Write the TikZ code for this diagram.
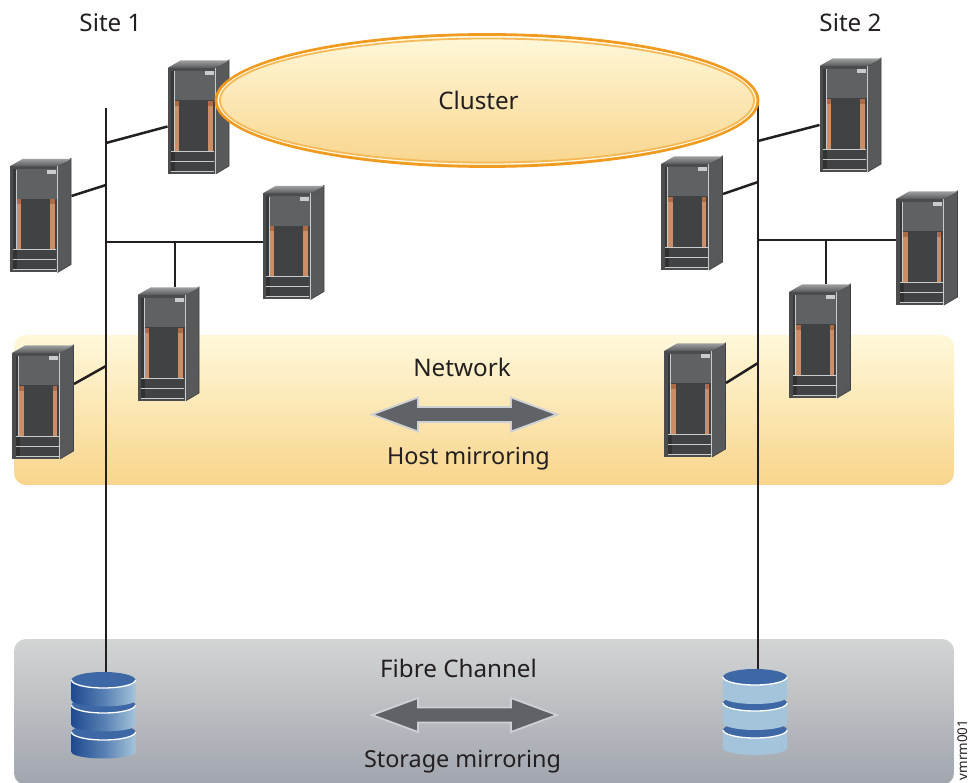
\documentclass[tikz,border=0pt]{standalone}
\usepackage{fontspec}
\setmainfont{Noto Sans}
\definecolor{txt}{HTML}{231F20}
\definecolor{ink}{HTML}{231F20}
\definecolor{ygtop}{HTML}{FFF8DA}
\definecolor{ygbot}{HTML}{F8D58C}
\definecolor{grtop}{HTML}{D3D5D4}
\definecolor{grbot}{HTML}{A0A5AE}
\definecolor{orng}{HTML}{F09A20}
\definecolor{orngl}{HTML}{F6B95A}
\definecolor{arrowdk}{HTML}{5F6266}
\definecolor{arrowlt}{HTML}{CDD1D6}
\definecolor{srvfront}{HTML}{4A4C4D}
\definecolor{srvtop}{HTML}{5E6262}
\definecolor{srvside}{HTML}{58595B}
\definecolor{srvdark}{HTML}{414243}
\definecolor{srvlit}{HTML}{C9CCCC}
\definecolor{srvcop}{HTML}{CC8E66}
\definecolor{srvcopd}{HTML}{B06A45}
\definecolor{dkblue}{HTML}{1F4A8F}
\definecolor{mdblue}{HTML}{3D68A5}
\definecolor{ltblue}{HTML}{A4C4DB}
\tikzset{
  x=1pt,y=-1pt,
  lbl/.style={font=\fontsize{23.4}{28}\selectfont,text=txt,inner sep=0pt,anchor=base},
  lblb/.style={font=\fontsize{24.2}{28}\selectfont,text=txt,inner sep=0pt,anchor=base},
  wire/.style={draw=ink,line width=2.5pt},
  band/.style={rounded corners=12pt},
  srvnode/.style={draw=none,fill=srvfront,minimum width=48pt,minimum height=106pt,inner sep=0pt,anchor=north west,outer sep=0pt},
  bigarrow/.style={fill=arrowdk,draw=arrowlt,line width=1.8pt,miter limit=8},
  dbleft/.style={left color=dkblue,right color=ltblue,middle color=mdblue!75!ltblue},
}
% name, left, top of the front face
\newcommand{\srv}[3]{%
  \node[srvnode] (#1) at (#2,#3) {};
  \begin{scope}[shift={(#2,#3)}]
    \fill[srvside] (48,0) -- (61.5,-8) -- (61.5,98) -- (48,106) -- cycle;
    \draw[srvfront!85!black,line width=.7pt] (48,0) -- (61.5,-8) -- (61.5,98) -- (48,106);
    \shade[top color=srvlit!60!srvside,bottom color=srvside] (0,0) -- (13,-7.5) -- (61.5,-7.5) -- (48,0) -- cycle;
    \fill[srvtop] (3.5,3) rectangle (47,32.5);
    \fill[srvdark] (3.5,32.5) rectangle (47,84);
    \fill[srvdark!85!black] (3.5,3) rectangle (6,83);
    \fill[srvcop] (7,33) rectangle (11.5,83);
    \fill[srvcop] (40.5,33) rectangle (45,83);
    \fill[srvcopd] (7,33) rectangle (11.5,38);
    \fill[srvcopd] (40.5,33) rectangle (45,38);
    \fill[srvlit] (37,3.5) rectangle (46,7.5);
    \fill[srvlit] (6,3.5) rectangle (7,83);
    \fill[srvlit] (47,0) rectangle (48,106);
    \fill[srvlit] (3.5,83) rectangle (46.5,84);
    \fill[srvlit] (3.5,93) rectangle (46.5,94);
    \fill[srvlit] (3.5,103) rectangle (46.5,104);
    \fill[srvdark] (3.5,84) rectangle (46.5,93);
    \fill[srvdark] (3.5,94) rectangle (46.5,103);
    \fill[srvdark!75!black] (3.5,84) rectangle (7.5,93);
    \fill[srvdark!75!black] (3.5,94) rectangle (7.5,103);
  \end{scope}
}
% centre x, top-face centre y, side height, body style
\newcommand{\platter}[4]{%
  \shade[#4] (#1-32,#2) -- (#1-32,#2+#3) arc[x radius=32,y radius=6.5,start angle=180,end angle=0] -- (#1+32,#2) -- cycle;
  \fill[mdblue] (#1,#2) ellipse[x radius=32,y radius=8];
  \draw[white,line width=1.3pt] (#1-32,#2) arc[x radius=32,y radius=8,start angle=180,end angle=0];
}
\newcommand{\platterflat}[4]{%
  \fill[#4] (#1-32,#2) -- (#1-32,#2+#3) arc[x radius=32,y radius=7,start angle=180,end angle=0] -- (#1+32,#2) -- cycle;
  \fill[mdblue] (#1,#2) ellipse[x radius=32,y radius=8];
  \draw[white,line width=1.3pt] (#1-32,#2) arc[x radius=32,y radius=8,start angle=180,end angle=0];
}
\newcommand{\twoarrow}[1]{%
  \path[bigarrow] (372,#1) -- (418,#1-17) -- (418,#1-7.5) -- (511,#1-7.5) -- (511,#1-17) -- (557,#1) -- (511,#1+17) -- (511,#1+7.5) -- (418,#1+7.5) -- (418,#1+17) -- cycle;
}
\begin{document}
\begin{tikzpicture}
\useasboundingbox (0,0) rectangle (970,783);
\fill[white] (0,0) rectangle (970,783);
% bands
\shade[band,top color=ygtop,bottom color=ygbot] (14,335) rectangle (954,485);
\shade[band,top color=grtop,bottom color=grbot] (14,639) rectangle (954,785);

% named points on the trunks
\coordinate (tla) at (106,108);
\coordinate (tlb) at (106,676);
\coordinate (j1) at (106,143);
\coordinate (j2) at (106,185);
\coordinate (j3) at (106,242);
\coordinate (j4) at (175,242);
\coordinate (j5) at (106,366);
\coordinate (tra) at (758,100);
\coordinate (trb) at (758,674);
\coordinate (k1) at (758,141);
\coordinate (k2) at (758,182);
\coordinate (k3) at (758,240);
\coordinate (k4) at (826,240);
\coordinate (k5) at (758,363);

% servers
\srv{s1}{167.5}{68}
\srv{s2}{9.5}{166.5}
\srv{s3}{262.5}{193.5}
\srv{s4}{137.5}{295}
\srv{s5}{12}{353}
\srv{r1}{819.5}{66}
\srv{r2}{661}{164}
\srv{r3}{896}{199}
\srv{r4}{789}{292}
\srv{r5}{664}{351}

% connectors
\draw[wire] (tla) -- (tlb);
\draw[wire] (tra) -- (trb);
\draw[wire] (j1) -- ([yshift=-5.5pt]s1.west);
\draw[wire] (j2) -- ([xshift=14pt,yshift=23.5pt]s2.east);
\draw[wire] (j3) -- (s3.west |- j3);
\draw[wire] (j4) -- ([yshift=7.5pt]j4 |- s4.north);
\draw[wire] (j5) -- ([xshift=14pt,yshift=22pt]s5.east);
\draw[wire] (k1) -- ([yshift=-6pt]r1.west);
\draw[wire] (k2) -- ([xshift=14pt,yshift=23pt]r2.east);
\draw[wire] (k3) -- (r3.west |- k3);
\draw[wire] (k4) -- ([yshift=7.5pt]k4 |- r4.north);
\draw[wire] (k5) -- ([xshift=14pt,yshift=21pt]r5.east);

% cluster
\shade[top color=ygtop,bottom color=ygbot,draw=none] (487,100.5) ellipse[x radius=271,y radius=66];
\draw[orng,line width=2.8pt] (487,100.5) ellipse[x radius=271,y radius=66];
\draw[white!40!ygtop,line width=1.2pt] (487,100.5) ellipse[x radius=268.6,y radius=63.6];
\draw[orngl,line width=1.8pt] (487,100.5) ellipse[x radius=267,y radius=62];

% arrows
\twoarrow{414.5}
\twoarrow{715}

% disks
\platter{103.5}{732}{20}{dbleft}
\platter{103.5}{705}{20}{dbleft}
\platter{103.5}{680}{20}{dbleft}
\platterflat{755}{730}{18}{ltblue}
\platterflat{755}{703}{20}{ltblue}
\platterflat{755}{677}{20}{ltblue}

% labels
\node[lblb] (site1) at (110.5,32) {Site 1};
\node[lblb] (site2) at (850.5,32) {Site 2};
\node[lblb] (cluster) at (478.5,109.5) {Cluster};
\node[lblb] (network) at (462,376.5) {Network};
\node[lbl] (hostm) at (468.5,464.5) {Host mirroring};
\node[lblb] (fibre) at (458.5,677) {Fibre Channel};
\node[lbl] (storm) at (462.5,767) {Storage mirroring};
\node[font=\fontsize{13.4}{16}\selectfont,text=txt,inner sep=0pt,rotate=90,anchor=base east] (code) at (967,719.5) {vmrm001};
\end{tikzpicture}
\end{document}
